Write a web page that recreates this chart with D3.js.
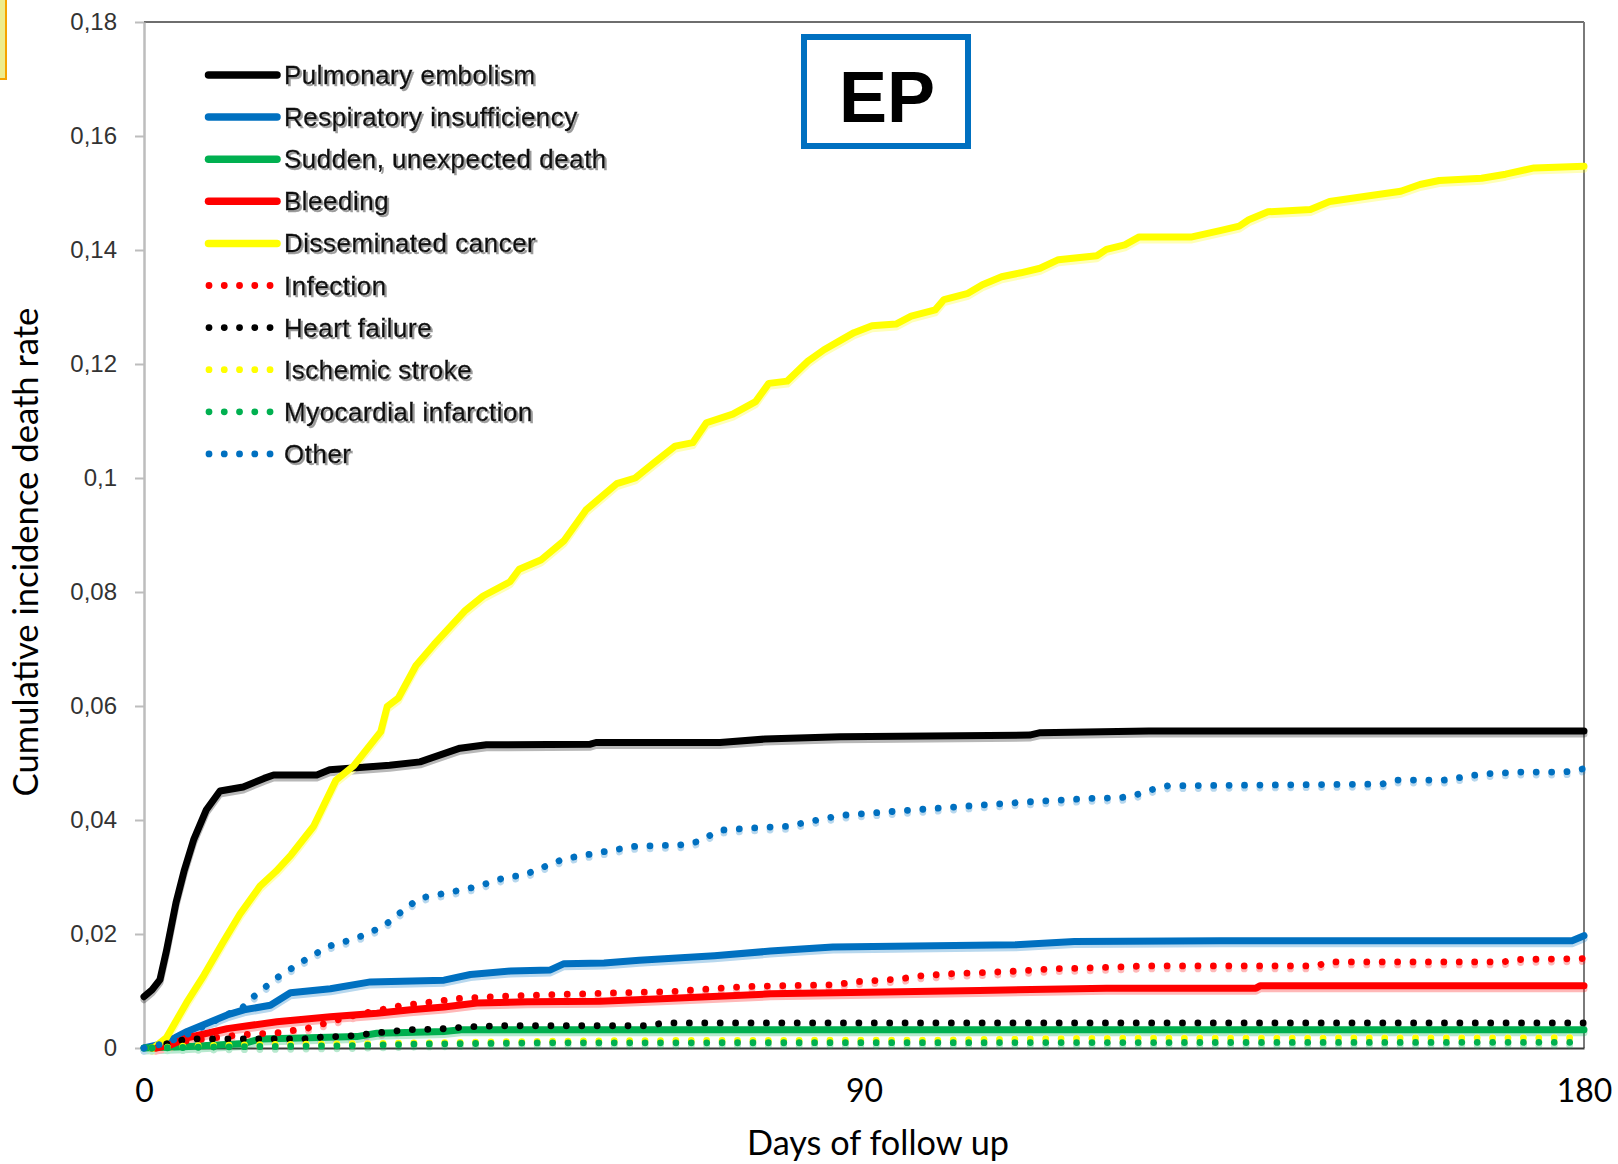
<!DOCTYPE html>
<html>
<head>
<meta charset="utf-8">
<script src="https://cdn.jsdelivr.net/npm/d3@7/dist/d3.min.js"></script>
<style>
  html, body { margin: 0; padding: 0; background: #fff; }
  svg { display: block; }
</style>
</head>
<body>
<svg id="chart" width="1618" height="1164"></svg>
<script>
// Cumulative incidence of death by cause, days 0-180 of follow up: [day, rate]
const pulmonaryEmbolism = [[0,0.009],[1,0.0102],[2,0.012],[2.8,0.017],[4,0.0255],[5,0.031],[6.2,0.0365],[7.8,0.0418],[9.5,0.0451],[12.4,0.0458],[15,0.0473],[16.2,0.0479],[21.6,0.0479],[23.2,0.0488],[30.7,0.0496],[34.5,0.0502],[39.5,0.0526],[42.8,0.0532],[55.8,0.0533],[56.5,0.0536],[72,0.0536],[77.6,0.0542],[87,0.0546],[110.7,0.0549],[111.9,0.0553],[125.6,0.0556],[180,0.0556]];
const respiratoryInsufficiency = [[0,0],[2.5,0.0008],[5.4,0.0029],[10.4,0.0058],[12.5,0.0067],[15.8,0.0075],[18.3,0.0097],[23.3,0.0104],[28.3,0.0116],[37.5,0.0119],[40.8,0.0129],[45.8,0.0135],[50.8,0.0137],[52.5,0.0148],[57.5,0.0149],[61.9,0.0154],[71.3,0.0162],[78.3,0.017],[86.1,0.0177],[108.9,0.0181],[116.3,0.0187],[134.5,0.0188],[178.5,0.0188],[180,0.0197]];
const suddenDeath = [[0,0],[5,0.0002],[12.5,0.0008],[14.6,0.0016],[26.6,0.002],[29.1,0.0026],[37.5,0.0029],[39.6,0.0032],[180,0.0032]];
const bleeding = [[1.5,0],[3.3,0.0005],[5.4,0.0018],[10.4,0.0034],[16.6,0.0046],[23.3,0.0055],[29.1,0.0061],[33.3,0.0067],[37.5,0.0072],[41.6,0.0079],[47.9,0.0081],[57,0.0082],[65.4,0.0087],[78.3,0.0095],[104.4,0.0101],[120.3,0.0105],[139,0.0105],[139.5,0.0109],[180,0.0109]];
const disseminatedCancer = [[1.2,0],[2.8,0.0018],[5.3,0.0079],[7.5,0.0128],[9.9,0.0186],[12,0.0235],[14.5,0.0284],[16.5,0.031],[18.4,0.0339],[21.2,0.0389],[24,0.047],[26.2,0.0495],[29.6,0.0555],[30.4,0.0599],[31.8,0.0614],[34,0.0671],[36.25,0.0708],[40.2,0.0768],[42.4,0.0793],[45.75,0.0818],[46.9,0.084],[49.6,0.0856],[52.5,0.089],[55.25,0.0944],[59.1,0.099],[61.4,0.1],[63.6,0.1025],[66.4,0.1056],[68.6,0.1062],[70.3,0.1097],[73.6,0.1112],[76.45,0.1134],[78.1,0.1166],[80.4,0.117],[83,0.1205],[85,0.1225],[87,0.1241],[88.75,0.1255],[91,0.1267],[94,0.127],[95.9,0.1284],[98.9,0.1295],[100,0.1313],[103,0.1324],[104.8,0.1339],[107.2,0.1353],[109.6,0.136],[112,0.1368],[114.3,0.1383],[119.1,0.139],[120.3,0.1401],[122.6,0.1409],[124.4,0.1423],[131,0.1423],[134.5,0.1434],[136.9,0.1442],[138.1,0.1453],[140.5,0.1467],[145.8,0.1471],[148.2,0.1485],[153.6,0.1496],[157.1,0.1503],[159.5,0.1515],[161.9,0.1522],[167.2,0.1526],[170.2,0.1533],[173.75,0.1544],[180,0.1547]];
const infection = [[1.5,0],[5,0.0012],[12,0.0023],[17,0.0027],[20.5,0.0035],[26.5,0.0058],[32,0.0074],[39.5,0.0087],[45,0.0091],[57,0.0096],[65.9,0.0099],[75.25,0.0108],[86.6,0.0111],[88.6,0.0116],[94.5,0.0121],[96.5,0.0126],[100.5,0.013],[107.9,0.0134],[113.8,0.0139],[117.25,0.014],[125.2,0.0144],[146.6,0.0144],[148,0.0151],[170,0.0151],[171,0.0155],[180,0.0157]];
const heartFailure = [[1,0],[4,0.0012],[5.8,0.0016],[20,0.0016],[22.9,0.002],[25,0.002],[28.75,0.0026],[32.9,0.0032],[36.7,0.0033],[40.4,0.0037],[44.2,0.0039],[63,0.0039],[64.9,0.0044],[180,0.0044]];
const ischemicStroke = [[1,0],[6,0.0004],[15,0.0006],[30,0.0008],[45,0.0011],[60,0.0013],[100,0.0014],[117,0.0017],[180,0.0018]];
const myocardialInfarction = [[1,0],[10,0.0002],[25,0.0004],[35,0.0007],[50,0.0009],[180,0.001]];
const otherCauses = [[0,0],[2.6,0.0008],[5.75,0.0026],[10.75,0.0061],[12.4,0.0072],[13.7,0.009],[16.6,0.0123],[19.7,0.0151],[23,0.0178],[26.6,0.0193],[29.9,0.0213],[32.8,0.0246],[34.5,0.0263],[37.8,0.0272],[41.6,0.0283],[45.3,0.03],[47.4,0.0303],[52.5,0.0332],[61.4,0.0354],[67,0.0356],[69.2,0.0362],[72,0.0382],[76,0.0386],[80.4,0.0389],[87,0.0408],[95.5,0.0417],[104.5,0.0426],[110.75,0.0432],[118.5,0.0438],[122,0.0439],[124,0.0444],[125.9,0.0453],[128,0.046],[154.75,0.0463],[156.5,0.047],[162.5,0.047],[164.25,0.0474],[166,0.0478],[167.8,0.0481],[171.7,0.0484],[177.5,0.0484],[180,0.049]];

const seriesNames = ["Pulmonary embolism","Respiratory insufficiency","Sudden, unexpected death","Bleeding","Disseminated cancer","Infection","Heart failure","Ischemic stroke","Myocardial infarction","Other"];
const seriesData = [pulmonaryEmbolism, respiratoryInsufficiency, suddenDeath, bleeding, disseminatedCancer, infection, heartFailure, ischemicStroke, myocardialInfarction, otherCauses];
const seriesColors = ["#000000","#0070C0","#00B050","#FF0000","#FFFF00","#FF0000","#000000","#FFFF00","#00B050","#0070C0"];
const seriesDotted = [false,false,false,false,false,true,true,true,true,true];

const yTicks = [0,0.02,0.04,0.06,0.08,0.10,0.12,0.14,0.16,0.18];
const xTicks = [0,90,180];
const panelLabel = "EP";
const xTitle = "Days of follow up";
const yTitle = "Cumulative incidence death rate";

const svg = d3.select("#chart");
const W = 1618, H = 1164;
const plot = {left: 144, right: 1584, top: 22, bottom: 1048};

const x = d3.scaleLinear().domain([0,180]).range([plot.left, plot.right]);
const y = d3.scaleLinear().domain([0,0.18]).range([plot.bottom, plot.top]);

const defs = svg.append("defs");
// soft tinted shadow under each curve
const lf = defs.append("filter").attr("id","lineShadow").attr("filterUnits","userSpaceOnUse")
  .attr("x",0).attr("y",0).attr("width",W).attr("height",H);
lf.append("feOffset").attr("in","SourceGraphic").attr("dx",0).attr("dy",2.5).attr("result","off");
lf.append("feColorMatrix").attr("in","off").attr("type","matrix")
  .attr("values","1 0 0 0 0  0 1 0 0 0  0 0 1 0 0  0 0 0 0.28 0").attr("result","sh");
const lm = lf.append("feMerge");
lm.append("feMergeNode").attr("in","sh");
lm.append("feMergeNode").attr("in","SourceGraphic");

// grey drop shadow for legend text
const tf = defs.append("filter").attr("id","textShadow").attr("filterUnits","userSpaceOnUse")
  .attr("x",0).attr("y",0).attr("width",W).attr("height",H);
tf.append("feOffset").attr("in","SourceAlpha").attr("dx",1.5).attr("dy",1.5).attr("result","o");
tf.append("feFlood").attr("flood-color","#9a9a9a").attr("result","f");
tf.append("feComposite").attr("in","f").attr("in2","o").attr("operator","in").attr("result","s");
const tm = tf.append("feMerge");
tm.append("feMergeNode").attr("in","s");
tm.append("feMergeNode").attr("in","SourceGraphic");

// small tab at the top-left corner
svg.append("rect").attr("x",-4).attr("y",-4).attr("width",10).attr("height",83)
  .attr("fill","#eeec8c").attr("stroke","#f5a300").attr("stroke-width",2);

// frame: top and right borders
svg.append("line").attr("x1",plot.left).attr("x2",plot.right).attr("y1",plot.top).attr("y2",plot.top)
  .attr("stroke","#6e6e6e").attr("stroke-width",2);
svg.append("line").attr("x1",plot.right).attr("x2",plot.right).attr("y1",plot.top).attr("y2",plot.bottom)
  .attr("stroke","#7a7a7a").attr("stroke-width",2);

// y axis
const fmt = d => d === 0 ? "0" : d3.format(".2~f")(d).replace(".", ",");
const yAxis = svg.append("g").attr("transform",`translate(${plot.left},0)`)
  .call(d3.axisLeft(y).tickValues(yTicks).tickSize(9).tickSizeOuter(0).tickPadding(18).tickFormat(fmt));
yAxis.select(".domain").attr("stroke","#bdbdbd").attr("stroke-width",2.5);
yAxis.selectAll(".tick line").attr("stroke","#bdbdbd").attr("stroke-width",2);
yAxis.selectAll(".tick text").attr("fill","#333").attr("font-size",24)
  .attr("font-family","'Liberation Sans', Arial, sans-serif");

// x axis
const xAxis = svg.append("g").attr("transform",`translate(0,${plot.bottom})`)
  .call(d3.axisBottom(x).tickValues(xTicks).tickSize(0).tickSizeOuter(0));
xAxis.select(".domain").attr("stroke","#3a3a3a").attr("stroke-width",2);
xAxis.selectAll(".tick text").attr("fill","#000").attr("font-size",32)
  .attr("font-family","Lato, 'Open Sans', sans-serif").attr("dy",null).attr("y",54);

// axis titles, sized to their spans
function fitText(sel, target, base) {
  const len = sel.node().getComputedTextLength();
  sel.attr("font-size", base * target / len);
}
const xt = svg.append("text").attr("x",878).attr("y",1155).attr("text-anchor","middle")
  .attr("font-family","Lato, 'Open Sans', sans-serif").attr("font-size",32).attr("fill","#000").text(xTitle);
fitText(xt, 262, 32);
const yt = svg.append("text").attr("transform","translate(38,552) rotate(-90)").attr("text-anchor","middle")
  .attr("font-family","Lato, 'Open Sans', sans-serif").attr("font-size",30).attr("fill","#000").text(yTitle);
fitText(yt, 489, 30);

// curves
const line = d3.line().x(d => x(d[0])).y(d => y(d[1])).curve(d3.curveLinear);
const curves = svg.append("g").attr("filter","url(#lineShadow)");
seriesData.forEach((data, i) => {
  const p = curves.append("path").attr("d", line(data)).attr("fill","none")
    .attr("stroke", seriesColors[i]).attr("stroke-linecap","round").attr("stroke-linejoin","round");
  if (seriesDotted[i]) p.attr("stroke-width",6.8).attr("stroke-dasharray","0.01 15.4");
  else p.attr("stroke-width",7);
});

// legend
const legend = svg.append("g");
const rowY = i => 75 + i * 42.1;
seriesNames.forEach((name, i) => {
  const cy = rowY(i);
  if (seriesDotted[i]) {
    legend.append("line").attr("x1",209).attr("x2",271).attr("y1",cy).attr("y2",cy)
      .attr("stroke",seriesColors[i]).attr("stroke-width",6.8).attr("stroke-linecap","round")
      .attr("stroke-dasharray","0.01 15.25");
  } else {
    legend.append("line").attr("x1",208.5).attr("x2",277).attr("y1",cy).attr("y2",cy)
      .attr("stroke",seriesColors[i]).attr("stroke-width",7.5).attr("stroke-linecap","round");
  }
  legend.append("text").attr("x",284).attr("y",cy + 9)
    .attr("font-family","'Liberation Sans', Arial, sans-serif").attr("font-size",26)
    .attr("letter-spacing",0.5).attr("stroke","#111").attr("stroke-width",0.35)
    .attr("fill","#111").attr("filter","url(#textShadow)").text(name);
});

// panel label box
svg.append("rect").attr("x",804).attr("y",37).attr("width",164).attr("height",109)
  .attr("fill","#fff").attr("stroke","#0070C0").attr("stroke-width",6);
svg.append("text").attr("x",887).attr("y",122).attr("text-anchor","middle")
  .attr("font-family","'Liberation Sans', Arial, sans-serif").attr("font-weight","bold")
  .attr("font-size",72).attr("fill","#000").text(panelLabel);
</script>
</body>
</html>
